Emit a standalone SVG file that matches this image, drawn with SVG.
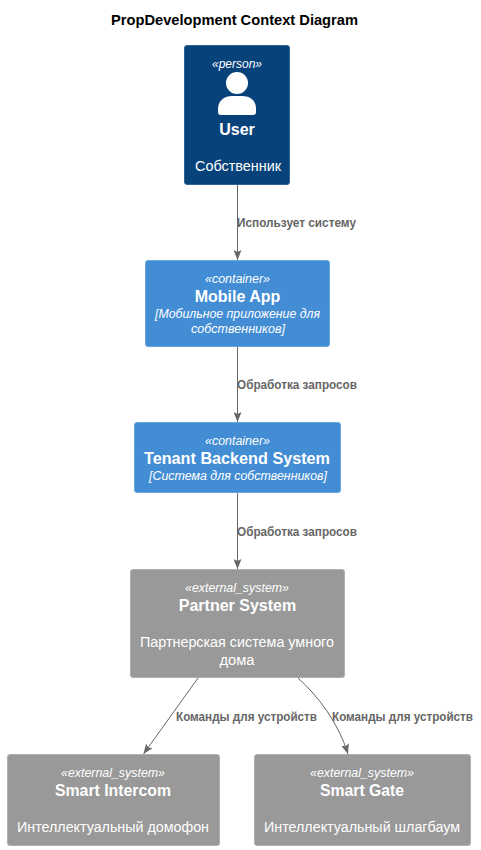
<svg xmlns="http://www.w3.org/2000/svg" width="481" height="850" viewBox="0 0 481 850">
<style>
text{font-family:"Liberation Sans",Arial,sans-serif;text-anchor:middle;fill:#fff}
.title{font-size:14px;font-weight:bold;fill:#000}
.st{font-size:12px;font-style:italic}
.nm{font-size:16px;font-weight:bold}
.ds{font-size:14px}
.tc{font-size:12px;font-style:italic}
.lb{font-size:12px;font-weight:bold;fill:#666;text-anchor:start}
.p{fill:#08427B;stroke:#2F6396}
.c{fill:#438DD5;stroke:#6CA6DF}
.e{fill:#999;stroke:#B0B0B0}
.line{fill:none;stroke:#666}
</style>
<defs><marker id="a" viewBox="0 0 10 8" markerUnits="userSpaceOnUse" markerWidth="10" markerHeight="8" refX="10" refY="4" orient="auto"><path d="M0 0L10 4L0 8L2 4Z" fill="#666"/></marker></defs>
<text class="title" x="234.500" y="25" textLength="247" lengthAdjust="spacingAndGlyphs">PropDevelopment Context Diagram</text>
<g id="connectors">
<path class="line" marker-end="url(#a)" d="M237.500 184V260"/>
<path class="line" marker-end="url(#a)" d="M237.500 346V422"/>
<path class="line" marker-end="url(#a)" d="M237.500 493V569"/>
<path class="line" marker-end="url(#a)" d="M198 678L143.500 754"/>
<path class="line" marker-end="url(#a)" d="M298 678C318 696 338 722 348 754"/>
<text class="lb" x="237" y="227" textLength="119" lengthAdjust="spacingAndGlyphs">Использует систему</text>
<text class="lb" x="237" y="389" textLength="120" lengthAdjust="spacingAndGlyphs">Обработка запросов</text>
<text class="lb" x="237" y="536" textLength="120" lengthAdjust="spacingAndGlyphs">Обработка запросов</text>
<text class="lb" x="176" y="721" textLength="141" lengthAdjust="spacingAndGlyphs">Команды для устройств</text>
<text class="lb" x="332" y="721" textLength="141" lengthAdjust="spacingAndGlyphs">Команды для устройств</text>
</g>
<g id="user">
<rect class="p" x="184.500" y="45.500" width="105" height="139" rx="2.500"/>
<text class="st" x="237" y="68">«person»</text>
<circle cx="237" cy="83" r="11" fill="#fff"/>
<path fill="#fff" d="M218 112V109C218 100 225 96 232 96H242C250 96 256 100 256 109V112C256 114 255 115 253 115H221C219 115 218 114 218 112Z"/>
<text class="nm" x="237" y="135">User</text>
<text class="ds" x="238" y="171" textLength="86" lengthAdjust="spacingAndGlyphs">Собственник</text>
</g>
<g id="mobile-app">
<rect class="c" x="145.500" y="260.500" width="184" height="86" rx="2.500"/>
<text class="st" x="237.500" y="283" textLength="65" lengthAdjust="spacingAndGlyphs">«container»</text>
<text class="nm" x="237.500" y="302">Mobile App</text>
<text class="tc" x="237.500" y="318" textLength="165" lengthAdjust="spacingAndGlyphs">[Мобильное приложение для</text>
<text class="tc" x="238" y="333" textLength="94" lengthAdjust="spacingAndGlyphs">собственников]</text>
</g>
<g id="tenant-backend">
<rect class="c" x="134.500" y="422.500" width="206" height="70" rx="2.500"/>
<text class="st" x="237.500" y="445" textLength="65" lengthAdjust="spacingAndGlyphs">«container»</text>
<text class="nm" x="237" y="464" textLength="186" lengthAdjust="spacingAndGlyphs">Tenant Backend System</text>
<text class="tc" x="238" y="480" textLength="178" lengthAdjust="spacingAndGlyphs">[Система для собственников]</text>
</g>
<g id="partner-system">
<rect class="e" x="130.500" y="569.500" width="214" height="108" rx="2.500"/>
<text class="st" x="237" y="592" textLength="104" lengthAdjust="spacingAndGlyphs">«external_system»</text>
<text class="nm" x="237.500" y="611">Partner System</text>
<text class="ds" x="237" y="647" textLength="194" lengthAdjust="spacingAndGlyphs">Партнерская система умного</text>
<text class="ds" x="237" y="665" textLength="35" lengthAdjust="spacingAndGlyphs">дома</text>
</g>
<g id="smart-intercom">
<rect class="e" x="7.500" y="754.500" width="212" height="91" rx="2.500"/>
<text class="st" x="113" y="777" textLength="104" lengthAdjust="spacingAndGlyphs">«external_system»</text>
<text class="nm" x="113" y="796" textLength="116" lengthAdjust="spacingAndGlyphs">Smart Intercom</text>
<text class="ds" x="113" y="832" textLength="192" lengthAdjust="spacingAndGlyphs">Интеллектуальный домофон</text>
</g>
<g id="smart-gate">
<rect class="e" x="254.500" y="754.500" width="216" height="91" rx="2.500"/>
<text class="st" x="362" y="777" textLength="104" lengthAdjust="spacingAndGlyphs">«external_system»</text>
<text class="nm" x="362" y="796" textLength="84" lengthAdjust="spacingAndGlyphs">Smart Gate</text>
<text class="ds" x="362" y="832" textLength="196" lengthAdjust="spacingAndGlyphs">Интеллектуальный шлагбаум</text>
</g>
</svg>
